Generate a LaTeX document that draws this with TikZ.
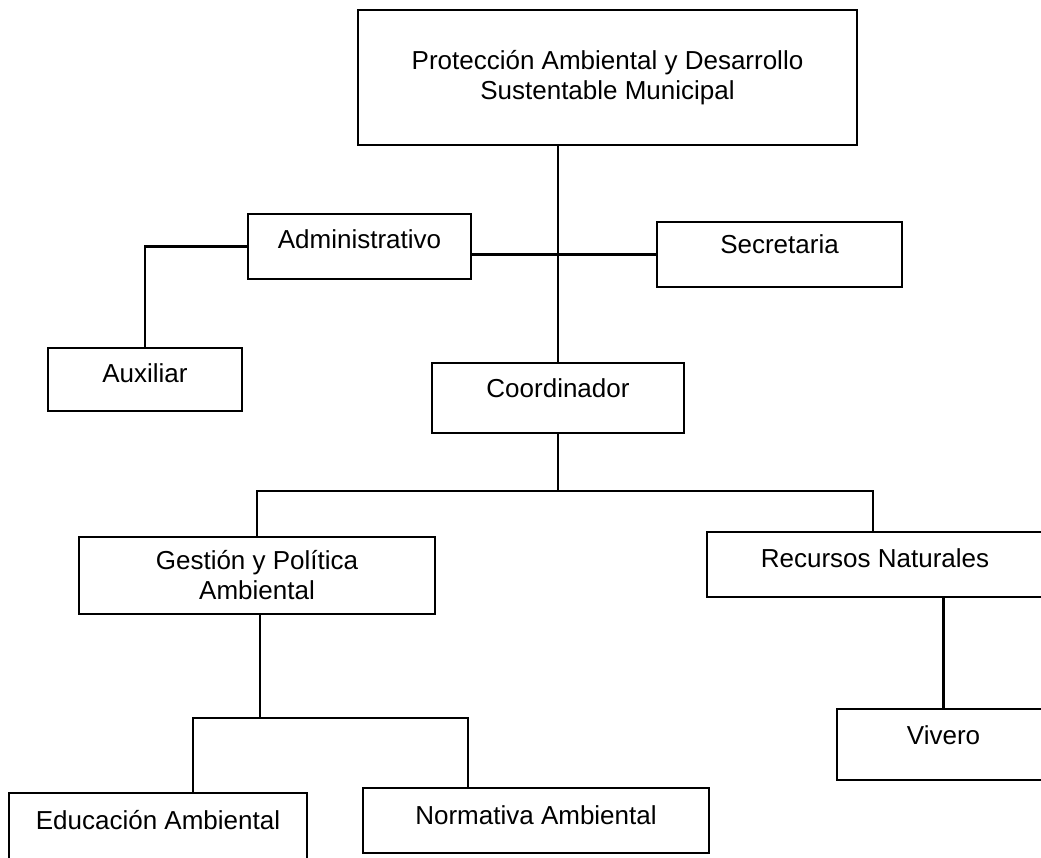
\documentclass[tikz,border=0pt]{standalone}
\usepackage{fontspec}
\setmainfont{Liberation Sans}
\begin{document}
\begin{tikzpicture}[x=1pt,y=-1pt,
  box/.style={draw, line width=2.7pt, inner sep=0pt, outer sep=0pt,
    align=center, font=\fontsize{26pt}{30pt}\selectfont},
  link/.style={line width=2.7pt},
  lift/.style={text height=18.6pt, text depth=#1}]
\useasboundingbox (0,0) rectangle (1041,858);
\clip (0,0) rectangle (1041,858);

% units of the organisation chart
\node[box, minimum width=499pt, minimum height=135pt] (top) at (607.5,77.5)
  {Protección Ambiental y Desarrollo\\Sustentable Municipal};
\node[box, lift=15pt, minimum width=223pt, minimum height=65pt] (admin) at (359.5,246.5) {Administrativo};
\node[box, lift=20pt, minimum width=245pt, minimum height=65pt] (secr) at (779.5,254.5) {Secretaria};
\node[box, lift=13pt, minimum width=194pt, minimum height=63pt] (aux) at (145,379.5) {Auxiliar};
\node[box, lift=20pt, minimum width=252pt, minimum height=70pt] (coord) at (558,398) {Coordinador};
\node[box, minimum width=356pt, minimum height=77pt] (gest) at (257,575.5)
  {Gestión y Política\\Ambiental};
\node[box, lift=12pt, minimum width=336pt, minimum height=65pt] (rec) at (875,564.5) {Recursos Naturales};
\node[box, lift=19pt, minimum width=213pt, minimum height=71pt] (viv) at (943.5,744.5) {Vivero};
\node[box, lift=21pt, minimum width=298pt, minimum height=75pt] (edu) at (158,830.5) {Educación Ambiental};
\node[box, lift=11pt, minimum width=346pt, minimum height=65pt] (norm) at (536,820.5) {Normativa Ambiental};

% branching points
\coordinate (bus1) at (558,491);
\coordinate (bus2) at (260,718);
\coordinate (b2l) at (193,718);
\coordinate (b2r) at (468,718);

% connectors
\draw[link] (top.south -| coord.north) -- (coord.north);
\draw[link] (secr.west -| admin.east) -- (secr.west);
\draw[link] (admin.west) -| (aux.north);
\draw[link] (coord.south) -- (bus1);
\draw[link] (gest.north) |- (bus1) -| ([xshift=-2pt]rec.north);
\draw[link] (rec.south -| viv.north) -- (viv.north);
\draw[link] (gest.south -| bus2) -- (bus2);
\draw[link] (b2l |- edu.north) -- (b2l) -- (b2r) -- (b2r |- norm.north);
\end{tikzpicture}
\end{document}
